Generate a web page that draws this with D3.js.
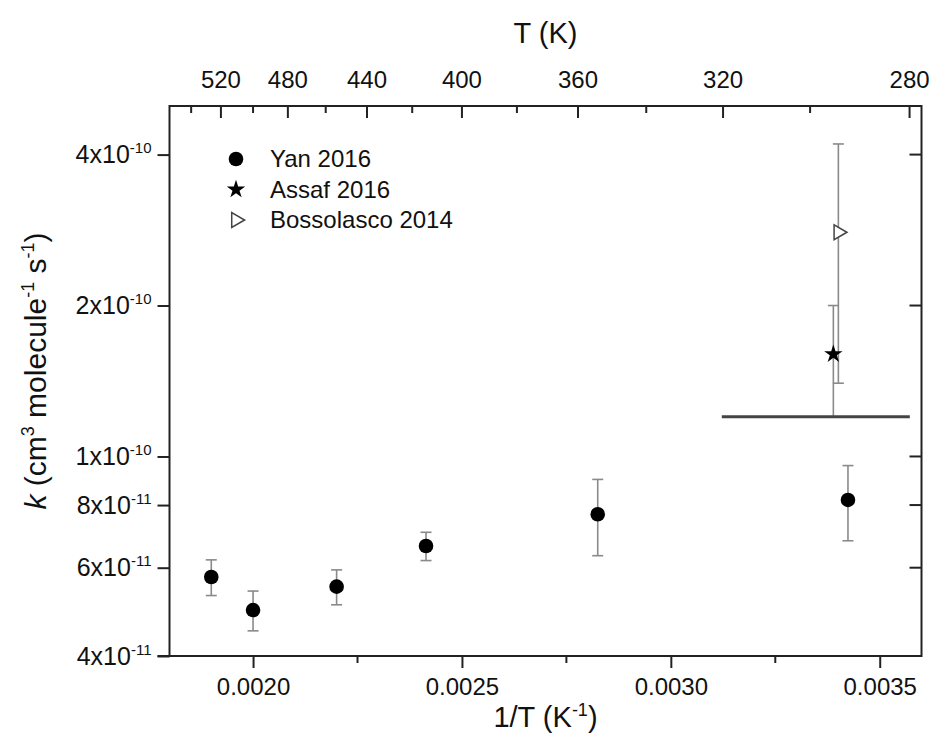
<!DOCTYPE html>
<html>
<head>
<meta charset="utf-8">
<script src="https://cdn.jsdelivr.net/npm/d3@7"></script>
<style>
  body { margin: 0; background: #fff; }
  svg text { font-family: 'Liberation Sans', Arial, sans-serif; fill: #111; }
</style>
</head>
<body>
<div id="chart"></div>
<script>
// data
const yanInvT = [0.0019, 0.0020, 0.0022, 0.002414, 0.002825, 0.003424];
const yanK = [5.75e-11, 4.94e-11, 5.50e-11, 6.63e-11, 7.67e-11, 8.19e-11];
const yanErr = [0.47e-11, 0.45e-11, 0.44e-11, 0.43e-11, 1.33e-11, 1.40e-11];

const assafInvT = [0.003389];
const assafK = [1.6e-10];
const assafErr = [0.4e-10];

const bossInvT = [0.003401];
const bossK = [2.8e-10];
const bossErr = [1.4e-10];

// horizontal bar on the right (T range 280-320 K)
const limitInvT = [0.003122, 0.003572];
const limitK = 1.2e-10;

const xTicks = [0.0020, 0.0025, 0.0030, 0.0035];
const xMinorTicks = [0.00225, 0.00275, 0.00325];
const tMajorTicks = [520, 480, 440, 400, 360, 320, 280];
const tMinorTicks = [540, 500, 460, 420, 380, 340, 300];
const yTicks = [4e-11, 6e-11, 8e-11, 1e-10, 2e-10, 4e-10];

const legendNames = ['Yan 2016', 'Assaf 2016', 'Bossolasco 2014'];

const width = 930;
const height = 745;
const margin = { top: 106, right: 8.5, bottom: 89, left: 169.5 };

const x = d3.scaleLinear()
  .domain([0.0018, 0.0036])
  .range([margin.left, width - margin.right]);

const y = d3.scaleLog()
  .domain([4e-11, 5e-10])
  .range([height - margin.bottom, margin.top]);

const svg = d3.select('#chart')
  .append('svg')
  .attr('width', width)
  .attr('height', height);

const frameColor = '#222';
const errColor = '#8a8a8a';

// y tick label like 4x10^-11
function expLabel(sel, v) {
  const e = Math.floor(Math.log10(v) + 1e-9);
  const m = Math.round(v / Math.pow(10, e));
  sel.text(null);
  sel.append('tspan').text(`${m}x10`);
  sel.append('tspan')
    .attr('dy', -10)
    .style('font-size', '15px')
    .text(`${e}`);
}

// bottom axis
const gBottom = svg.append('g')
  .attr('transform', `translate(0, ${height - margin.bottom})`)
  .call(d3.axisBottom(x)
    .tickValues(xTicks)
    .tickFormat(d3.format('.4f'))
    .tickSize(12)
    .tickPadding(10));
gBottom.select('.domain').remove();
gBottom.selectAll('.tick line').attr('stroke', frameColor).attr('stroke-width', 2);
gBottom.selectAll('.tick text').style('font-size', '24px');
gBottom.selectAll('.minor')
  .data(xMinorTicks)
  .enter()
  .append('line')
  .attr('x1', d => x(d))
  .attr('x2', d => x(d))
  .attr('y1', 0)
  .attr('y2', 7)
  .attr('stroke', frameColor)
  .attr('stroke-width', 2);
// the bottom axis line runs a little past the left frame
gBottom.append('line')
  .attr('x1', margin.left - 12)
  .attr('x2', margin.left)
  .attr('stroke', frameColor)
  .attr('stroke-width', 2);

// top axis in T (K), ticks inward
const gTop = svg.append('g')
  .attr('transform', `translate(0, ${margin.top})`);
gTop.selectAll('.major')
  .data(tMajorTicks)
  .enter()
  .append('line')
  .attr('x1', d => x(1 / d))
  .attr('x2', d => x(1 / d))
  .attr('y1', 0)
  .attr('y2', 12)
  .attr('stroke', frameColor)
  .attr('stroke-width', 2);
gTop.selectAll('.minorT')
  .data(tMinorTicks)
  .enter()
  .append('line')
  .attr('x1', d => x(1 / d))
  .attr('x2', d => x(1 / d))
  .attr('y1', 0)
  .attr('y2', 7)
  .attr('stroke', frameColor)
  .attr('stroke-width', 2);
gTop.selectAll('text')
  .data(tMajorTicks)
  .enter()
  .append('text')
  .attr('x', d => x(1 / d))
  .attr('y', -18)
  .attr('text-anchor', 'middle')
  .style('font-size', '24px')
  .text(d => d);

// left axis
const gLeft = svg.append('g')
  .attr('transform', `translate(${margin.left}, 0)`)
  .call(d3.axisLeft(y)
    .tickValues(yTicks)
    .tickSize(12)
    .tickPadding(6));
gLeft.select('.domain').remove();
gLeft.selectAll('.tick line').attr('stroke', frameColor).attr('stroke-width', 2);
gLeft.selectAll('.tick text')
  .style('font-size', '25px')
  .each(function (d) { expLabel(d3.select(this), d); });

// right side ticks, inward
svg.append('g')
  .selectAll('line')
  .data(yTicks)
  .enter()
  .append('line')
  .attr('x1', width - margin.right)
  .attr('x2', width - margin.right - 12)
  .attr('y1', d => y(d))
  .attr('y2', d => y(d))
  .attr('stroke', frameColor)
  .attr('stroke-width', 2);

// frame
svg.append('rect')
  .attr('x', margin.left)
  .attr('y', margin.top)
  .attr('width', width - margin.left - margin.right)
  .attr('height', height - margin.top - margin.bottom)
  .attr('fill', 'none')
  .attr('stroke', frameColor)
  .attr('stroke-width', 2);

// axis titles
svg.append('text')
  .attr('x', (margin.left + width - margin.right) / 2)
  .attr('y', 43)
  .attr('text-anchor', 'middle')
  .style('font-size', '29px')
  .text('T (K)');

const xTitle = svg.append('text')
  .attr('x', (margin.left + width - margin.right) / 2)
  .attr('y', 727)
  .attr('text-anchor', 'middle')
  .style('font-size', '29px');
xTitle.append('tspan').text('1/T (K');
xTitle.append('tspan').attr('dy', -11).style('font-size', '18px').text('-1');
xTitle.append('tspan').attr('dy', 11).text(')');

const yTitle = svg.append('text')
  .attr('transform', 'translate(46, 371) rotate(-90)')
  .attr('text-anchor', 'middle')
  .style('font-size', '30px');
yTitle.append('tspan').style('font-style', 'italic').text('k');
yTitle.append('tspan').text(' (cm');
yTitle.append('tspan').attr('dy', -12).style('font-size', '18px').text('3');
yTitle.append('tspan').attr('dy', 12).text(' molecule');
yTitle.append('tspan').attr('dy', -12).style('font-size', '18px').text('-1');
yTitle.append('tspan').attr('dy', 12).text(' s');
yTitle.append('tspan').attr('dy', -12).style('font-size', '18px').text('-1');
yTitle.append('tspan').attr('dy', 12).text(')');

// error bars
function errorBars(xs, ks, errs, capTop, capBottom) {
  const g = svg.append('g')
    .attr('stroke', errColor)
    .attr('stroke-width', 1.6);
  xs.forEach((xv, i) => {
    const cx = x(xv);
    const top = y(ks[i] + errs[i]);
    const bot = y(ks[i] - errs[i]);
    g.append('line').attr('x1', cx).attr('x2', cx).attr('y1', top).attr('y2', bot);
    if (capTop) g.append('line').attr('x1', cx - 5.5).attr('x2', cx + 5.5).attr('y1', top).attr('y2', top);
    if (capBottom) g.append('line').attr('x1', cx - 5.5).attr('x2', cx + 5.5).attr('y1', bot).attr('y2', bot);
  });
}

errorBars(yanInvT, yanK, yanErr, true, true);
errorBars(bossInvT, bossK, bossErr, true, true);
errorBars(assafInvT, assafK, assafErr, true, false);

// horizontal limit bar
svg.append('line')
  .attr('x1', x(limitInvT[0]))
  .attr('x2', x(limitInvT[1]))
  .attr('y1', y(limitK))
  .attr('y2', y(limitK))
  .attr('stroke', '#444')
  .attr('stroke-width', 3);

// markers
const circleR = 7.3;
const starPath = d3.symbol().type(d3.symbolStar).size(105);
const triPath = d3.symbol().type(d3.symbolTriangle).size(95);

svg.append('g')
  .selectAll('circle')
  .data(yanInvT)
  .enter()
  .append('circle')
  .attr('cx', d => x(d))
  .attr('cy', (d, i) => y(yanK[i]))
  .attr('r', circleR)
  .attr('fill', '#000');

svg.append('g')
  .selectAll('path')
  .data(assafInvT)
  .enter()
  .append('path')
  .attr('d', starPath)
  .attr('transform', (d, i) => `translate(${x(d)}, ${y(assafK[i])})`)
  .attr('fill', '#000');

svg.append('g')
  .selectAll('path')
  .data(bossInvT)
  .enter()
  .append('path')
  .attr('d', triPath)
  .attr('transform', (d, i) => `translate(${x(d)}, ${y(bossK[i])}) rotate(90)`)
  .attr('fill', '#fff')
  .attr('stroke', '#444')
  .attr('stroke-width', 1.5);

// legend
const legend = svg.append('g')
  .attr('transform', 'translate(236, 159)');

legend.append('circle')
  .attr('cx', 0)
  .attr('cy', 0)
  .attr('r', circleR)
  .attr('fill', '#000');
legend.append('path')
  .attr('d', starPath)
  .attr('transform', 'translate(0, 30.5)')
  .attr('fill', '#000');
legend.append('path')
  .attr('d', triPath)
  .attr('transform', 'translate(0, 61) rotate(90)')
  .attr('fill', '#fff')
  .attr('stroke', '#444')
  .attr('stroke-width', 1.5);

legend.selectAll('text')
  .data(legendNames)
  .enter()
  .append('text')
  .attr('x', 34)
  .attr('y', (d, i) => i * 30.5)
  .attr('dy', '0.35em')
  .style('font-size', '24px')
  .text(d => d);
</script>
</body>
</html>
